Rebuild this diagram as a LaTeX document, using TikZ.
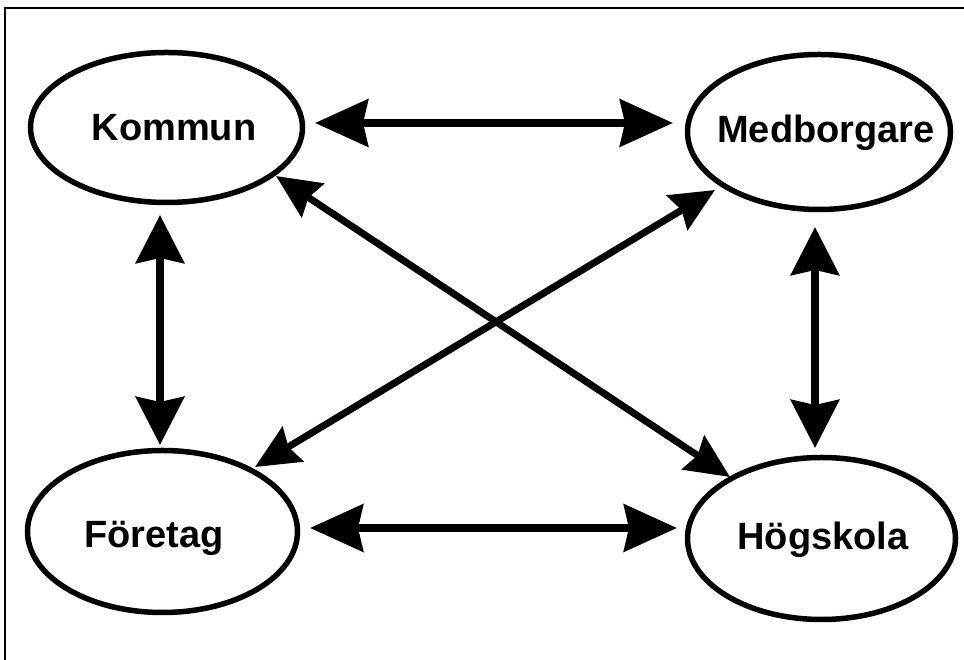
\documentclass[tikz,border=0pt]{standalone}
\usepackage{fontspec}
\setmainfont{Liberation Sans}
\usetikzlibrary{arrows.meta,shapes.geometric,calc}
\tikzset{
  ell/.style={ellipse, draw, line width=5.5pt, inner sep=0pt},
  lbl/.style={anchor=base, font=\fontsize{38}{40}\selectfont\bfseries, inner sep=0pt},
  harrow/.style={line width=8pt, {Stealth[length=53pt,width=47pt,inset=5pt]}-{Stealth[length=53pt,width=47pt,inset=5pt]}},
  varrow/.style={line width=8pt, {Stealth[length=48pt,width=48pt,inset=5pt]}-{Stealth[length=48pt,width=48pt,inset=5pt]}},
  darrow/.style={line width=7pt, {Stealth[length=44pt,width=40pt,inset=5pt]}-{Stealth[length=44pt,width=40pt,inset=5pt]}},
  frame/.style={line width=1.5pt}
}
\begin{document}
\begin{tikzpicture}[x=1pt,y=1pt]
\useasboundingbox (0,0) rectangle (964,660);
\coordinate (fl) at (5,0);
\coordinate (fc) at (5,652);
\coordinate (fr) at (964,652);
\draw[frame] (fl) -- (fc) -- (fr);
% ellipses
\node[ell, minimum width=272pt, minimum height=150pt] (kommun) at (166.5,532.5) {};
\node[ell, minimum width=263pt, minimum height=155pt] (medborgare) at (819,528) {};
\node[ell, minimum width=270pt, minimum height=162pt] (foretag) at (162.5,128.5) {};
\node[ell, minimum width=268pt, minimum height=162pt] (hogskola) at (821.5,121.5) {};
% labels
\node[lbl] (tkommun) at (174,519) {Kommun};
\node[lbl] (tmedborgare) at (826,517) {Medborgare};
\node[lbl] (tforetag) at (154,112) {Företag};
\node[lbl] (thogskola) at (823,110) {Högskola};
% connectors
\draw[harrow] ($(kommun.center)+(148.5,4.5)$) -- ($(medborgare.center)+(-146,9)$);
\draw[harrow] ($(foretag.center)+(147.5,3.5)$) -- ($(hogskola.center)+(-144.5,10.5)$);
\draw[varrow] ($(kommun.center)+(-6.5,-87.5)$) -- ($(foretag.center)+(-2.5,86.5)$);
\draw[varrow] ($(medborgare.center)+(-4,-95)$) -- ($(hogskola.center)+(-6.5,90.5)$);
\draw[darrow] ($(kommun.center)+(109.5,-48.5)$) -- ($(hogskola.center)+(-91.5,61.5)$);
\draw[darrow] ($(foretag.center)+(92.5,64.5)$) -- ($(medborgare.center)+(-104,-58)$);
\end{tikzpicture}
\end{document}
